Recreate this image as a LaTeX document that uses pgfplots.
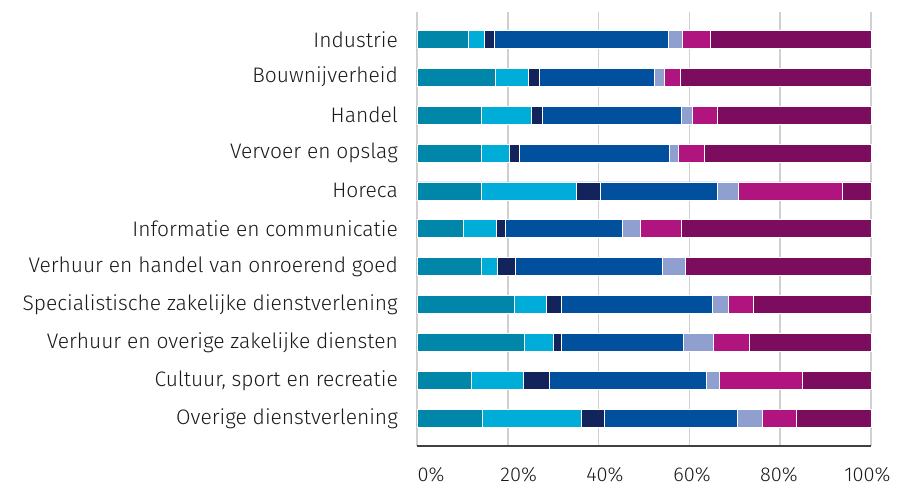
\documentclass[border=0pt]{standalone}
\usepackage{pgfplots}
\pgfplotsset{compat=1.18}
\usepackage{pgfplotstable}
\usepackage{fontspec}
\setmainfont{Fira Sans Light}
\definecolor{c1}{HTML}{0086A8}
\definecolor{c2}{HTML}{00ACD8}
\definecolor{c3}{HTML}{13235C}
\definecolor{c4}{HTML}{01509E}
\definecolor{c5}{HTML}{8F9FD0}
\definecolor{c6}{HTML}{B0147F}
\definecolor{c7}{HTML}{7C0D5E}
\definecolor{gridc}{HTML}{D0D0D0}
\definecolor{txt}{HTML}{1A1A1A}
\pgfplotstableread{
row a b c d e f g
0 11.3 3.5 2.3 38.2 3.2 6.2 35.3
1 17.3 7.2 2.4 25.3 2.3 3.6 41.9
2 14.2 11.1 2.3 30.7 2.4 5.5 33.8
3 14.2 6.2 2.2 32.9 2.1 5.8 36.6
4 14.2 20.9 5.2 25.9 4.7 22.9 6.2
5 10.2 7.3 2.0 25.8 3.8 9.2 41.7
6 14.2 3.5 4.0 32.3 5.2 0.0 40.8
7 21.5 7.0 3.3 33.2 3.7 5.4 25.9
8 23.7 6.4 1.7 26.9 6.6 8.0 26.7
9 12.0 11.5 5.6 34.7 2.7 18.4 15.1
10 14.4 21.8 5.1 29.3 5.5 7.5 16.4
}\data
\begin{document}
\begin{tikzpicture}[x=1bp,y=1bp]
\begin{axis}[
  scale only axis,
  width=454bp, height=434bp,
  xbar stacked,
  bar width=18bp,
  xmin=0, xmax=100,
  ymin=-0.72, ymax=10.73,
  y dir=reverse,
  axis line style={draw=none},
  ytick={0,...,10},
  yticklabels={Industrie,Bouwnijverheid,Handel,Vervoer en opslag,Horeca,Informatie en communicatie,Verhuur en handel van onroerend goed,Specialistische zakelijke dienstverlening,Verhuur en overige zakelijke diensten,{Cultuur, sport en recreatie},Overige dienstverlening},
  yticklabel style={anchor=east, inner sep=0pt, xshift=-19bp, font=\fontsize{21bp}{24bp}\selectfont, text=txt},
  xtick={0,20,...,100},
  xticklabels={},
  xmajorgrids,
  grid style={gridc, line width=1.5bp},
  major tick length=0pt,
  extra x ticks={3.1,22.4,41.4,60.6,79.7,99.2},
  extra x tick labels={0\%,20\%,40\%,60\%,80\%,100\%},
  extra x tick style={grid=none, major tick length=0pt},
  xticklabel style={anchor=north, inner sep=0pt, yshift=-21bp, font=\fontsize{20bp}{23bp}\selectfont, text=txt},
  clip=false,
]
\addplot[fill=c1, draw=white, line width=0.8bp] table[x=a, y=row] {\data};
\addplot[fill=c2, draw=white, line width=0.8bp] table[x=b, y=row] {\data};
\addplot[fill=c3, draw=white, line width=0.8bp] table[x=c, y=row] {\data};
\addplot[fill=c4, draw=white, line width=0.8bp] table[x=d, y=row] {\data};
\addplot[fill=c5, draw=white, line width=0.8bp] table[x=e, y=row] {\data};
\addplot[fill=c6, draw=white, line width=0.8bp] table[x=f, y=row] {\data};
\addplot[fill=c7, draw=white, line width=0.8bp] table[x=g, y=row] {\data};
\draw[color=black!75, line width=1.2bp] (rel axis cs:0,0) -- (rel axis cs:1,0);
\end{axis}
\pgfresetboundingbox
\path[use as bounding box] (-417bp,-39bp) rectangle (480bp,446bp);
\end{tikzpicture}
\end{document}
